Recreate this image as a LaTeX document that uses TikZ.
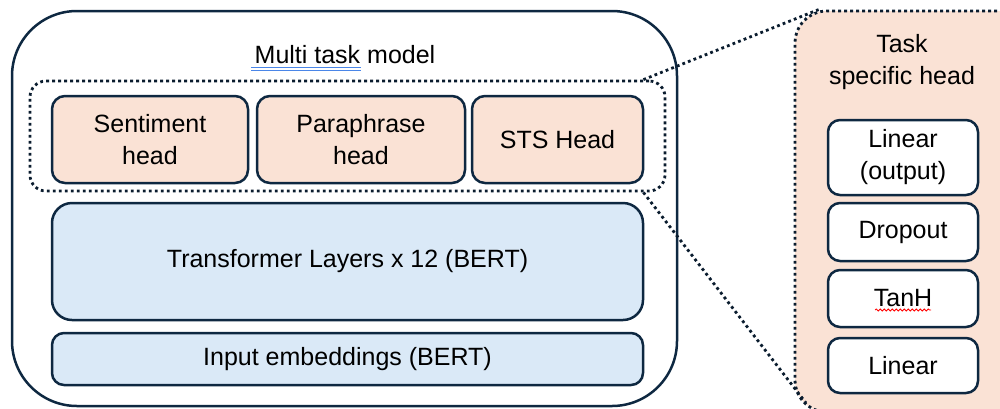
\documentclass[tikz,border=0pt]{standalone}
\usepackage{fontspec}
\setmainfont{Liberation Sans}
\usetikzlibrary{decorations.pathmorphing}
\definecolor{navy}{HTML}{0E2841}
\definecolor{peach}{HTML}{FAE2D5}
\definecolor{lblue}{HTML}{DAE9F7}
\definecolor{spellblue}{HTML}{4A86E8}
\begin{document}
\begin{tikzpicture}[x=1pt,y=-1pt,
 txt/.style={font=\fontsize{25}{32}\selectfont, align=center, inner sep=0pt},
 box/.style={txt, draw=navy, line width=2.5pt, rounded corners=13pt},
 headbox/.style={box, fill=peach},
 bertbox/.style={box, fill=lblue},
 layerbox/.style={box, fill=white, rounded corners=12pt, minimum width=150pt},
 dotline/.style={draw=navy!70!black, line width=2.8pt, dash pattern=on 2.8pt off 3.2pt}]
\useasboundingbox (0,0) rectangle (1000,408);
\clip (0,0) rectangle (1000,408);
% outer model box
\node[box, rounded corners=65pt, minimum width=665pt, minimum height=395pt] (outer) at (344.5,208.5) {};
\node[txt, anchor=base] (title) at (345,63) {Multi task model};
\draw[spellblue, line width=1pt] (251,67.5) -- (361,67.5);
\draw[spellblue, line width=1pt] (251,70.5) -- (361,70.5);
% heads group
\node[dotline, inner sep=0pt, rounded corners=16pt, minimum width=635pt, minimum height=110pt] (heads) at (347.5,136) {};
\node[headbox, minimum width=196pt, minimum height=87pt] (sent) at (150,139.5) {Sentiment\\head};
\node[headbox, minimum width=208pt, minimum height=87pt] (para) at (361,139.5) {Paraphrase\\head};
\node[headbox, minimum width=171pt, minimum height=87pt] (sts) at (557.5,139.5) {STS Head};
% BERT layers
\node[bertbox, rounded corners=20pt, minimum width=591pt, minimum height=117pt] (trans) at (347.5,261.5) {Transformer Layers x 12 (BERT)};
\node[bertbox, rounded corners=12pt, minimum width=591pt, minimum height=52pt] (embed) at (347.5,359) {Input embeddings (BERT)};
% task specific head panel
\node[dotline, fill=peach, inner sep=0pt, rounded corners=32pt, minimum width=240pt, minimum height=401pt] (panel) at (915,211.5) {};
\node[txt] (ptitle) at (902,62.5) {Task\\specific head};
\node[layerbox, minimum height=75pt] (lout) at (903,157.5) {Linear\\(output)};
\node[layerbox, minimum height=58pt] (drop) at (903,232) {Dropout};
\node[layerbox, minimum height=57pt] (tanh) at (903,298.5) {TanH};
\node[layerbox, minimum height=55pt] (lin) at (903,365.5) {Linear};
\draw[red, line width=0.8pt, decorate, decoration={snake, amplitude=1pt, segment length=4pt}] (875,310) -- (931,310);
% zoom connectors
\coordinate (h1) at ([xshift=-23pt]heads.north east);
\coordinate (h2) at ([xshift=-23pt]heads.south east);
\coordinate (p1) at ([xshift=25pt]panel.north west);
\coordinate (p2) at (806,403);
\draw[dotline] (h1) -- (p1);
\draw[dotline] (h2) -- (p2);
\end{tikzpicture}
\end{document}
